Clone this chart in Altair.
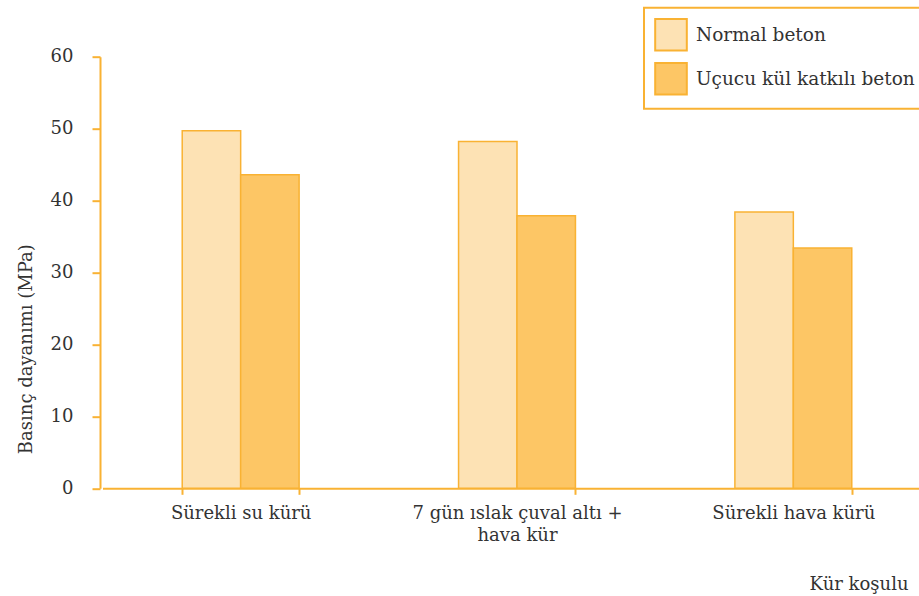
import altair as alt
import pandas as pd

# Curing conditions (x categories) and the two concrete series
conditions = ["Sürekli su kürü", "7 gün ıslak çuval altı + hava kür", "Sürekli hava kürü"]
series = ["Normal beton", "Uçucu kül katkılı beton"]

# Compressive strength, MPa
normal_beton = [49.7, 48.2, 38.4]
ucucu_kul_beton = [43.6, 37.9, 33.4]

rows = []
for cond, n, f in zip(conditions, normal_beton, ucucu_kul_beton):
    rows.append({"kosul": cond, "seri": series[0], "deger": n})
    rows.append({"kosul": cond, "seri": series[1], "deger": f})
df = pd.DataFrame(rows)

ORANGE = "#F9B233"
LIGHT = "#FDE2B4"
DARK = "#FDC665"
TEXT = "#333333"
FONT = "DejaVu Serif"

label_expr = (
    "datum.value == '7 gün ıslak çuval altı + hava kür' "
    "? ['7 gün ıslak çuval altı +', 'hava kür'] : datum.label"
)

chart = (
    alt.Chart(df)
    .mark_bar(stroke=ORANGE, strokeWidth=1.5)
    .encode(
        x=alt.X(
            "kosul:N",
            sort=conditions,
            scale=alt.Scale(paddingInner=0.577, paddingOuter=0.2885, range=[2.5, 831.5]),
            axis=alt.Axis(
                title="Kür koşulu",
                labelAngle=0,
                labelExpr=label_expr,
                labelFontSize=18,
                labelLineHeight=22,
                labelPadding=10,
                labelLimit=0,
                tickSize=6,
                tickBand="extent",
                titleAnchor="end",
                titleAlign="right",
                titleBaseline="alphabetic",
                titleX=808,
                titleY=101,
                titleFontSize=18,
            ),
        ),
        xOffset=alt.XOffset(
            "seri:N", sort=series, scale=alt.Scale(paddingInner=0, paddingOuter=0)
        ),
        y=alt.Y(
            "deger:Q",
            scale=alt.Scale(domain=[0, 60]),
            axis=alt.Axis(
                title="Basınç dayanımı (MPa)",
                values=[0, 10, 20, 30, 40, 50, 60],
                grid=False,
                tickSize=8,
                labelPadding=19,
                labelFontSize=18,
                titleFontSize=18,
                titleAngle=-90,
                titleAlign="center",
                titleBaseline="alphabetic",
                titleX=-69,
                titleY=292,
            ),
        ),
        color=alt.Color(
            "seri:N",
            scale=alt.Scale(domain=series, range=[LIGHT, DARK]),
            legend=alt.Legend(
                title=None,
                orient="none",
                legendX=544,
                legendY=-49,
                direction="vertical",
                symbolType="square",
                symbolSize=1000,
                symbolStrokeColor=ORANGE,
                symbolStrokeWidth=2,
                symbolOpacity=1,
                labelFontSize=18.5,
                labelFont=FONT,
                labelColor=TEXT,
                labelOffset=8,
                labelLimit=0,
                rowPadding=4,
                padding=10,
                strokeColor=ORANGE,
                fillColor="white",
            ),
        ),
    )
    .properties(
        width=819,
        height=431.6,
        autosize=alt.AutoSizeParams(type="none"),
        padding={"left": 100, "top": 56.7, "right": 0, "bottom": 107.7},
    )
    .configure_view(stroke=None)
    .configure_legend(strokeWidth=2)
    .configure_axis(
        domainColor=ORANGE,
        domainWidth=2,
        tickColor=ORANGE,
        tickWidth=2,
        labelFont=FONT,
        titleFont=FONT,
        labelColor=TEXT,
        titleColor=TEXT,
        titleFontWeight="normal",
    )
)

chart.save("out.html", embed_options={"renderer": "svg", "actions": False})
